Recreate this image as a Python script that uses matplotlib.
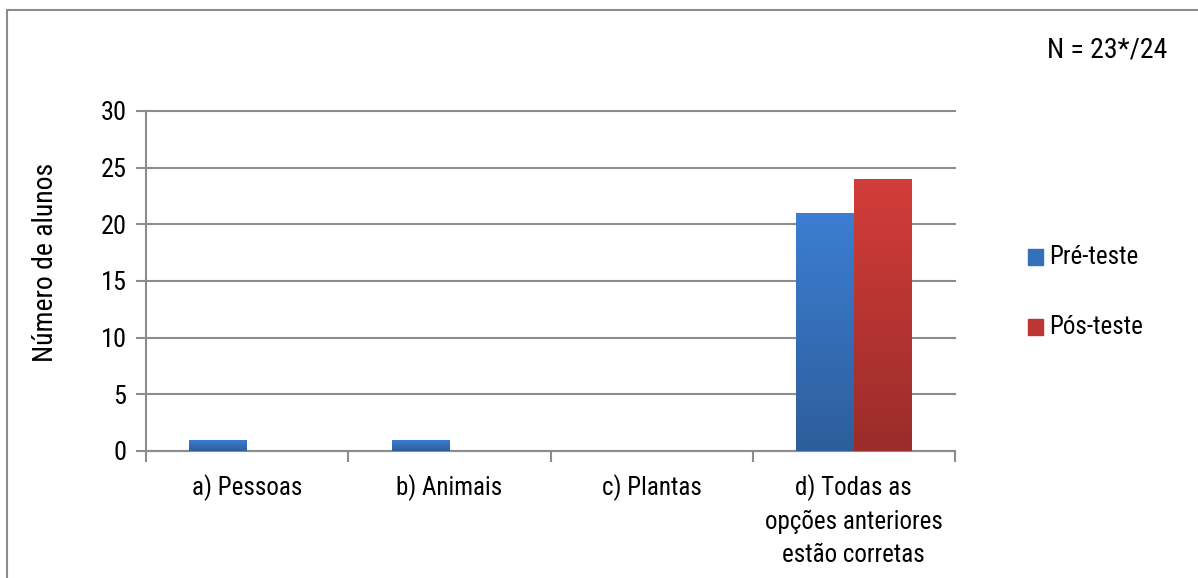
import matplotlib.pyplot as plt
import numpy as np
from matplotlib.colors import LinearSegmentedColormap
from matplotlib.patches import Rectangle
import matplotlib.font_manager as fm

categories = ['a) Pessoas', 'b) Animais', 'c) Plantas',
              'd) Todas as\nopções anteriores\nestão corretas']
pre_teste = [1, 1, 0, 21]
pos_teste = [0, 0, 0, 24]
series_names = ['Pré-teste', 'Pós-teste']

# pick a narrow sans face if one is available
installed = {f.name for f in fm.fontManager.ttflist}
for cand in ['Roboto Condensed', 'Archivo Narrow', 'PT Sans Narrow',
             'Liberation Sans Narrow', 'Encode Sans Condensed', 'Roboto']:
    if cand in installed:
        base = cand
        break
else:
    base = 'DejaVu Sans'
plt.rcParams['font.family'] = [base, 'DejaVu Sans']

blue_cm = LinearSegmentedColormap.from_list('b', ['#2D5E9B', '#3C7ED2'])
red_cm = LinearSegmentedColormap.from_list('r', ['#9A2C29', '#D33D39'])
GREY = '#8c8c8c'

fig = plt.figure(figsize=(11.98, 5.78), dpi=100)
ax = fig.add_axes([146 / 1198, 1 - 451 / 578, (955 - 146) / 1198, (451 - 111) / 578])

# outer chart border (right and bottom fall outside the canvas)
fig.add_artist(plt.Line2D([7 / 1198, 7 / 1198], [0, 1 - 10 / 578], transform=fig.transFigure,
                          color=GREY, lw=1.5))
fig.add_artist(plt.Line2D([7 / 1198, 1], [1 - 10 / 578, 1 - 10 / 578], transform=fig.transFigure,
                          color=GREY, lw=1.5))

x = np.arange(len(categories))
w = 0.286


def gradient_bars(xs, vals, cmap):
    grad = np.linspace(0, 1, 256).reshape(-1, 1)
    for xi, v in zip(xs, vals):
        if v <= 0:
            continue
        bar = ax.bar(xi, v, w, align='edge', color='none', zorder=3)[0]
        im = ax.imshow(grad, cmap=cmap, origin='lower', aspect='auto',
                       extent=[xi, xi + w, 0, v], zorder=3)
        im.set_clip_path(bar)


gradient_bars(x - w, pre_teste, blue_cm)
gradient_bars(x, pos_teste, red_cm)

ax.set_xlim(-0.5, len(categories) - 0.5)
ax.set_ylim(0, 30)
ax.set_yticks(range(0, 31, 5))
ax.yaxis.grid(True, color=GREY, lw=1.5)
for gl in ax.get_ygridlines():
    gl.set_clip_on(False)
ax.set_axisbelow(True)
for s in ['top', 'right']:
    ax.spines[s].set_visible(False)
for s in ['left', 'bottom']:
    ax.spines[s].set_color(GREY)
    ax.spines[s].set_linewidth(1.5)

ax.set_xticks(np.arange(-0.5, len(categories)), minor=False)
ax.set_xticklabels([])
ax.set_xticks(x, minor=True)
ax.set_xticklabels(categories, minor=True, fontsize=18, linespacing=1.45, va='top')
ax.tick_params(axis='x', which='major', length=8, width=1.5, color=GREY)
ax.tick_params(axis='x', which='minor', length=0, pad=17)
ax.tick_params(axis='y', length=7, width=1.5, color=GREY, labelsize=19, pad=7)

ax.set_ylabel('Número de alunos', fontsize=20)
ax.yaxis.set_label_coords(-0.108, 0.556)

fig.text(1107 / 1198, 1 - 50 / 578, 'N = 23*/24', fontsize=20, ha='center', va='center')

# legend
for i, (name, col) in enumerate(zip(series_names, ['#3570BB', '#BD3533'])):
    yc = 1 - (257 + 70 * i) / 578
    fig.add_artist(Rectangle((1028 / 1198, yc - 8 / 578), 15 / 1198, 16 / 578,
                             transform=fig.transFigure, color=col))
    fig.text(1049 / 1198, yc, name, fontsize=18, va='center', ha='left')

fig.savefig('out.png', dpi=100, facecolor='white')
